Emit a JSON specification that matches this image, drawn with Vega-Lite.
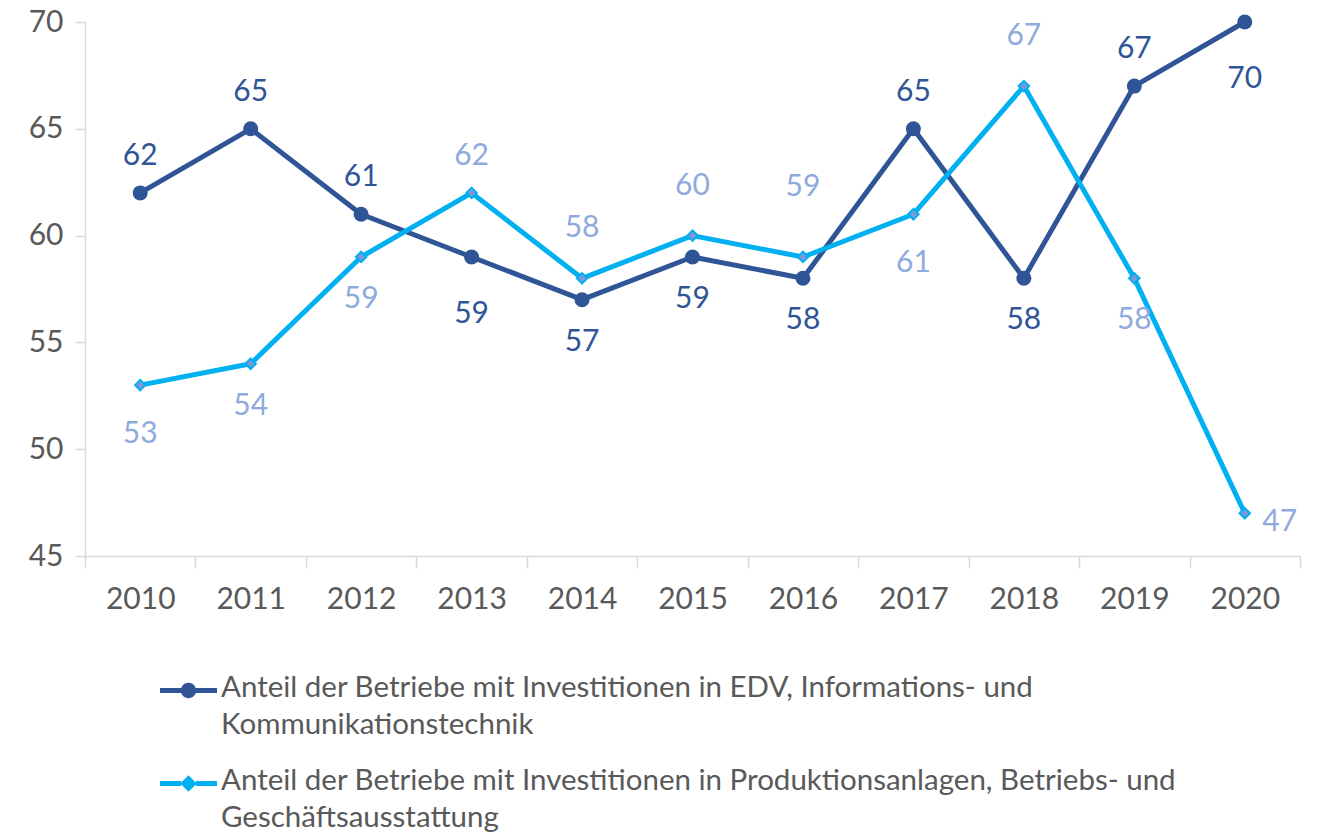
{
  "$schema": "https://vega.github.io/schema/vega-lite/v6.json",
  "autosize": {"type": "none"},
  "padding": {"left": 85, "top": 22, "right": 19, "bottom": 277},
  "width": 1215,
  "height": 534,
  "background": "white",
  "config": {
    "view": {"stroke": null},
    "font": "Lato",
    "axis": {"labelFont": "Lato", "labelColor": "#595959", "domainColor": "#D9D9D9", "tickColor": "#D9D9D9", "domainWidth": 1.5, "tickWidth": 1.5, "grid": false, "title": null},
    "legend": {"labelFont": "Lato", "labelColor": "#595959"},
    "text": {"fontSize": 30, "baseline": "middle"}
  },
  "data": {"values": [
    {"year": "2010", "series": "Anteil der Betriebe mit Investitionen in EDV, Informations- und Kommunikationstechnik", "value": 62},
    {"year": "2011", "series": "Anteil der Betriebe mit Investitionen in EDV, Informations- und Kommunikationstechnik", "value": 65},
    {"year": "2012", "series": "Anteil der Betriebe mit Investitionen in EDV, Informations- und Kommunikationstechnik", "value": 61},
    {"year": "2013", "series": "Anteil der Betriebe mit Investitionen in EDV, Informations- und Kommunikationstechnik", "value": 59},
    {"year": "2014", "series": "Anteil der Betriebe mit Investitionen in EDV, Informations- und Kommunikationstechnik", "value": 57},
    {"year": "2015", "series": "Anteil der Betriebe mit Investitionen in EDV, Informations- und Kommunikationstechnik", "value": 59},
    {"year": "2016", "series": "Anteil der Betriebe mit Investitionen in EDV, Informations- und Kommunikationstechnik", "value": 58},
    {"year": "2017", "series": "Anteil der Betriebe mit Investitionen in EDV, Informations- und Kommunikationstechnik", "value": 65},
    {"year": "2018", "series": "Anteil der Betriebe mit Investitionen in EDV, Informations- und Kommunikationstechnik", "value": 58},
    {"year": "2019", "series": "Anteil der Betriebe mit Investitionen in EDV, Informations- und Kommunikationstechnik", "value": 67},
    {"year": "2020", "series": "Anteil der Betriebe mit Investitionen in EDV, Informations- und Kommunikationstechnik", "value": 70},
    {"year": "2010", "series": "Anteil der Betriebe mit Investitionen in Produktionsanlagen, Betriebs- und Geschäftsausstattung", "value": 53},
    {"year": "2011", "series": "Anteil der Betriebe mit Investitionen in Produktionsanlagen, Betriebs- und Geschäftsausstattung", "value": 54},
    {"year": "2012", "series": "Anteil der Betriebe mit Investitionen in Produktionsanlagen, Betriebs- und Geschäftsausstattung", "value": 59},
    {"year": "2013", "series": "Anteil der Betriebe mit Investitionen in Produktionsanlagen, Betriebs- und Geschäftsausstattung", "value": 62},
    {"year": "2014", "series": "Anteil der Betriebe mit Investitionen in Produktionsanlagen, Betriebs- und Geschäftsausstattung", "value": 58},
    {"year": "2015", "series": "Anteil der Betriebe mit Investitionen in Produktionsanlagen, Betriebs- und Geschäftsausstattung", "value": 60},
    {"year": "2016", "series": "Anteil der Betriebe mit Investitionen in Produktionsanlagen, Betriebs- und Geschäftsausstattung", "value": 59},
    {"year": "2017", "series": "Anteil der Betriebe mit Investitionen in Produktionsanlagen, Betriebs- und Geschäftsausstattung", "value": 61},
    {"year": "2018", "series": "Anteil der Betriebe mit Investitionen in Produktionsanlagen, Betriebs- und Geschäftsausstattung", "value": 67},
    {"year": "2019", "series": "Anteil der Betriebe mit Investitionen in Produktionsanlagen, Betriebs- und Geschäftsausstattung", "value": 58},
    {"year": "2020", "series": "Anteil der Betriebe mit Investitionen in Produktionsanlagen, Betriebs- und Geschäftsausstattung", "value": 47}
  ]},
  "encoding": {
    "x": {"field": "year", "type": "ordinal", "scale": {"type": "band", "paddingInner": 0, "paddingOuter": 0},
      "axis": {"labelAngle": 0, "tickBand": "extent", "tickSize": 12, "labelPadding": 16, "labelFontSize": 30}},
    "y": {"field": "value", "type": "quantitative", "scale": {"domain": [45, 70], "nice": false, "zero": false},
      "axis": {"values": [45, 50, 55, 60, 65, 70], "tickSize": 10, "labelPadding": 12, "labelFontSize": 30}}
  },
  "layer": [
    {
      "mark": {"type": "line", "strokeWidth": 5, "strokeJoin": "round"},
      "encoding": {
        "color": {"field": "series", "type": "nominal",
          "scale": {"range": ["#2F5597", "#00B0F0"]},
          "legend": {
            "orient": "none", "legendX": 75, "legendY": 640, "direction": "vertical", "title": null,
            "labelFontSize": 29.5, "labelLimit": 1200, "symbolSize": 3249, "rowPadding": 16, "labelOffset": 4, "padding": 0,
            "labelBaseline": "top",
            "labelExpr": "[slice(datum.label,0,indexof(datum.label,' und ')+4), slice(datum.label,indexof(datum.label,' und ')+5)]",
            "encode": {
              "labels": {"update": {"lineHeight": {"value": 37}, "dy": {"value": -17}}},
              "symbols": {"update": {
                "shape": {"signal": "indexof(datum.value,'EDV')>=0 ? 'M-1,-0.09L-0.24,-0.09L-0.24,0.09L-1,0.09Z M0.24,-0.09L1,-0.09L1,0.09L0.24,0.09Z M0.27,0A0.27,0.27,0,1,1,-0.27,0A0.27,0.27,0,1,1,0.27,0Z' : 'M-1,-0.09L-0.26,-0.09L-0.26,0.09L-1,0.09Z M0.26,-0.09L1,-0.09L1,0.09L0.26,0.09Z M0,-0.29L0.29,0L0,0.29L-0.29,0Z'"},
                "fill": {"signal": "indexof(datum.value,'EDV')>=0 ? '#2F5597' : '#00B0F0'"},
                "stroke": {"value": "transparent"},
                "strokeWidth": {"value": 0},
                "opacity": {"value": 1}
              }}
            }
          }}
      }
    },
    {
      "transform": [{"filter": "indexof(datum.series,'EDV')>=0"}],
      "mark": {"type": "point", "shape": "circle", "filled": true, "size": 225, "color": "#2F5597", "opacity": 1}
    },
    {
      "transform": [{"filter": "indexof(datum.series,'EDV')<0"}],
      "mark": {"type": "point", "shape": "diamond", "filled": true, "size": 110, "fill": "#8096D8", "stroke": "#00B0F0", "strokeWidth": 2, "opacity": 1}
    },
    {
      "layer": [
        {
          "transform": [{"filter": "(indexof(datum.series,'EDV')>=0 && indexof(['2010','2011','2012','2017','2019'],datum.year)>=0) || (indexof(datum.series,'EDV')<0 && datum.year == '2013')"}],
          "mark": {"type": "text", "dy": -37}
        },
        {
          "transform": [{"filter": "indexof(datum.series,'EDV')<0 && indexof(['2014','2015','2018'],datum.year)>=0"}],
          "mark": {"type": "text", "dy": -50}
        },
        {
          "transform": [{"filter": "indexof(datum.series,'EDV')<0 && datum.year == '2016'"}],
          "mark": {"type": "text", "dy": -70}
        },
        {
          "transform": [{"filter": "(indexof(datum.series,'EDV')>=0 && indexof(['2014','2015','2016','2018'],datum.year)>=0) || (indexof(datum.series,'EDV')<0 && indexof(['2011','2012','2019'],datum.year)>=0)"}],
          "mark": {"type": "text", "dy": 42}
        },
        {
          "transform": [{"filter": "indexof(datum.series,'EDV')<0 && indexof(['2010','2017'],datum.year)>=0"}],
          "mark": {"type": "text", "dy": 49}
        },
        {
          "transform": [{"filter": "indexof(datum.series,'EDV')>=0 && indexof(['2013','2020'],datum.year)>=0"}],
          "mark": {"type": "text", "dy": 57}
        },
        {
          "transform": [{"filter": "indexof(datum.series,'EDV')<0 && datum.year == '2020'"}],
          "mark": {"type": "text", "dx": 35, "dy": 9}
        }
      ],
      "encoding": {
        "text": {"field": "value"},
        "color": {"field": "series", "type": "nominal", "scale": {"domain": ["Anteil der Betriebe mit Investitionen in EDV, Informations- und Kommunikationstechnik", "Anteil der Betriebe mit Investitionen in Produktionsanlagen, Betriebs- und Geschäftsausstattung"], "range": ["#2F5597", "#8FAADC"]}, "legend": null}
      }
    }
  ],
  "resolve": {"scale": {"color": "independent"}}
}
